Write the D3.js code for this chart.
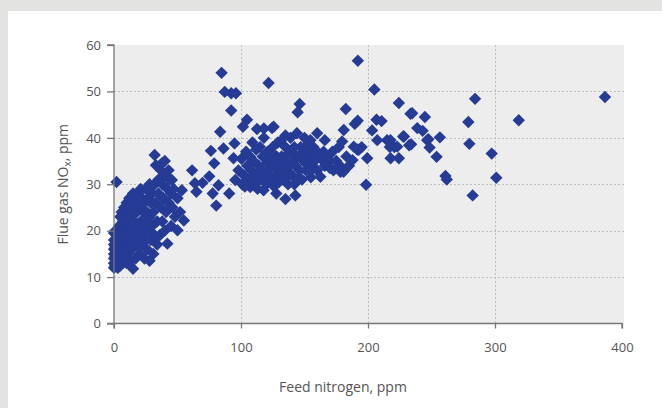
<!DOCTYPE html>
<html><head><meta charset="utf-8">
<script src="https://cdn.jsdelivr.net/npm/d3@7"></script>
<style>
html,body{margin:0;padding:0;background:#e3e3e2;}
svg{display:block;}
text{font-family:"Open Sans",sans-serif;}
</style></head>
<body>
<svg id="c" width="662" height="408"></svg>
<script>
// Feed nitrogen (ppm) and flue gas NOx (ppm) pairs
const feedN = [
 0,0,0,0,0,0,0,0,1,1,1,1,2,2,2,2,3,3,3,4,4,4,5,5,5,6,6,6,7,7,7,8,8,8,9,9,9,10,10,10,10,11,11,12,12,12,13,13,13,14,14,15,15,15,15,16,17,17,17,18,18,19,19,20,20,20,21,21,22,22,23,23,24,24,25,25,25,26,26,27,27,28,28,28,29,29,30,30,31,31,32,32,32,33,33,34,34,35,35,36,37,37,38,38,39,40,40,41,42,42,43,44,45,45,46,47,48,50,50,52,55,61.5,63.7,64.9,
 37.6,45.5,53.4,40,43,
 69.7,75,76.3,77.7,78.9,80.5,82.3,83.6,84.7,86.2,87.2,90.7,92.3,92.3,94.1,94.9,95.5,96,98,100.4,101.5,104.7,
 101,102,103,104,105,106,107.3,107,108,109,110,110,111,112.6,112,113,114,115,115,116,117.8,117,118,119,120,120,121,121.7,122,123,124.4,124,125,126,126,127,127.8,128,129,130,130,131,132,132,133,134,135,135,136,137,137,138,139,140,140,141,142,142.8,143,144,144.6,146.2,145,146,147,148,149,150,151,152,153,154.6,156,155,156,157,158,160,160,162.5,163,166,166,168,170,172,172.8,175,177,178.3,178,179.6,180.7,180.9,182.5,183,185,187.8,189.6,191.5,191.9,192,192.7,195,198.5,199.4,
 125.7,153,188.8,135,118,150,160,128,133,138,145,150,155,165,170,142,147,158,
 203.2,205,206.7,207.3,210.7,215,217.7,217.2,217.8,220.7,223,224.3,224.3,227.7,228.3,232.4,233.5,234,234.8,238.8,243,244.8,246.6,247.5,248.5,254,256.6,261,262,279,279.8,282.4,284.3,297.4,301,318.7,386.6
];
const flueNOx = [
 12,13,14,15,16,17,18,19.5,12.5,14.5,16.5,20,13,15,18,30.5,12,17,19,14,16,21,12.5,18,23,15,20,24,13,17,22,14,19,25,16,21,24,13,18,22,26,15,20,17,23,27,13.5,19,25,16,21,11.8,18,24,28,22,14,20,26,17,24,21,28,15,19,25,22,29,17,27,20,24,14,26,18,22,29,16,24,20,27,13.5,23,30,18,26,21,28,15,24,36.3,19,30,34.1,26,22,17,28,31,19,25,33,22,30,27,20,32,24,17.2,29,26,31,21,28,25,29,23,20.1,27,24,22.2,33,30.2,28.4,
 34.5,30.9,28.7,35,33,
 30.3,31.7,37.2,28,34.5,25.4,29.8,41.3,54,37.7,49.9,28,49.6,45.9,35.6,38.8,30.9,49.6,33,35.5,42.4,43.9,
 30,32,29.5,37,34,31,29.4,36,33,39,30,35,32,41.9,37.5,29,34,31,38,33,28.7,36,40,32,34.5,30,37,51.8,33,35.5,42.1,31,38,29.5,34,36,28,32,39,34,30.5,39.2,36,33,31,35,26.8,38,33,30,36.5,34,40,32,37,35,30,27.6,34,41,45.5,47.3,36,33,38,31,35,37,33,34.5,36,39.5,37.7,31.5,34,38,35,33,37,31.6,35.5,39.5,34,36,33.5,37,33,35,38,32.7,34,39.2,32.7,41.7,46.2,36,34,35.2,43,37.5,43.7,56.6,37.4,38,29.9,35.6,
 42.4,38.8,38.1,40.5,42,40,41,36,34,32,31,35.5,33,37,35,38,36,36.5,
 41.6,50.4,43.9,39.5,43.6,39.5,39.5,38,35.6,38,38.1,47.5,35.6,40.3,40.3,38.4,45.2,38.6,45.3,42.1,41.5,44.5,39.5,39.7,37.9,35.9,40.1,31.8,31,43.4,38.7,27.6,48.4,36.6,31.4,43.8,48.8
];
const xTicks = [0,100,200,300,400];
const yTicks = [0,10,20,30,40,50,60];
const xTitle = "Feed nitrogen, ppm";

const svg = d3.select("#c");
svg.append("rect").attr("x",8).attr("y",11).attr("width",662).attr("height",408).attr("fill","#ffffff");

const L=114, R=622, T=45, B=323.5;
const x = d3.scaleLinear().domain([0,400]).range([L,R]);
const y = d3.scaleLinear().domain([0,60]).range([B,T]);

svg.append("rect").attr("x",L).attr("y",T).attr("width",R-L+2).attr("height",B-T).attr("fill","#ededed");

const g = svg.append("g");
g.selectAll(".hg").data(yTicks.filter(d=>d>0&&d<60)).join("line")
 .attr("x1",L).attr("x2",R+2).attr("y1",d=>Math.round(y(d))+0.5).attr("y2",d=>Math.round(y(d))+0.5)
 .attr("stroke","#bdbdbd").attr("stroke-width",1).attr("stroke-dasharray","2,2");
g.selectAll(".vg").data(xTicks.filter(d=>d>0&&d<400)).join("line")
 .attr("y1",T).attr("y2",B).attr("x1",d=>Math.round(x(d))+0.5).attr("x2",d=>Math.round(x(d))+0.5)
 .attr("stroke","#bdbdbd").attr("stroke-width",1).attr("stroke-dasharray","2,2");

const pts = feedN.map((v,i)=>[v,flueNOx[i]]);
const sym = d3.symbol().type(d3.symbolDiamond2).size(98);
svg.append("g").selectAll("path").data(pts).join("path")
 .attr("d",sym).attr("transform",d=>`translate(${x(d[0])},${y(d[1])})`)
 .attr("fill","#253b95");

const xAxis = svg.append("g").attr("transform",`translate(0,${B})`)
 .call(d3.axisBottom(x).tickValues(xTicks).tickSize(5).tickPadding(14));
const yAxis = svg.append("g").attr("transform",`translate(${L},0)`)
 .call(d3.axisLeft(y).tickValues(yTicks).tickSize(7).tickPadding(6));
[xAxis,yAxis].forEach(a=>{
 a.select(".domain").attr("stroke","#777").attr("stroke-width",1.3);
 a.selectAll(".tick line").attr("stroke","#777").attr("stroke-width",1.3);
 a.selectAll(".tick text").attr("fill","#555").style("font-size","13px").style("font-family","'Open Sans',sans-serif");
});
xAxis.select(".domain").attr("d",`M${L},5V0H${R}V5`);
yAxis.select(".domain").attr("d",`M-7,${T}H0V${B}H-7`);

svg.append("text").attr("x",(L+R)/2-25).attr("y",392).attr("text-anchor","middle")
 .attr("fill","#555").style("font-size","14px").text(xTitle);
const yt = svg.append("text").attr("transform",`translate(68,${(T+B)/2}) rotate(-90)`)
 .attr("text-anchor","middle").attr("fill","#555").style("font-size","14px");
yt.append("tspan").text("Flue gas NO");
yt.append("tspan").attr("dy",3).style("font-size","10px").text("x");
yt.append("tspan").attr("dy",-3).text(", ppm");
</script>
</body></html>
